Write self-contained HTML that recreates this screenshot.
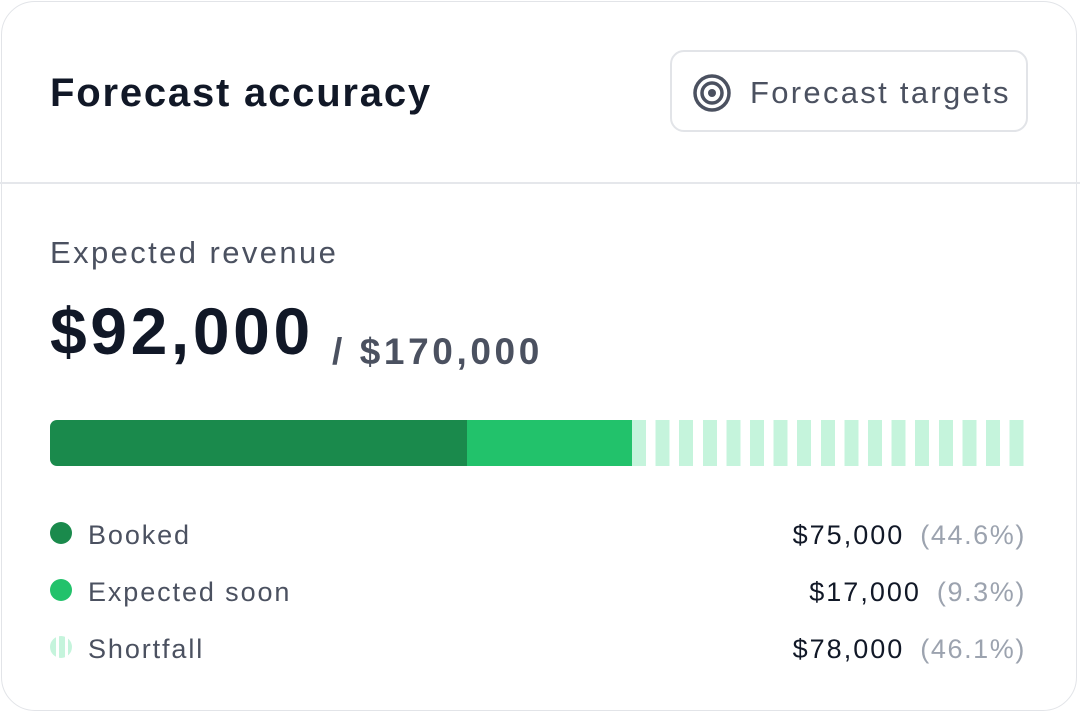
<!DOCTYPE html>
<html><head><style>
body{margin:0;width:1080px;height:714px;background:#fff;font-family:"Liberation Sans",sans-serif;overflow:hidden}
.card{position:absolute;left:1px;top:1px;width:1076px;height:710px;border:1px solid #e2e4e8;border-radius:34px;box-sizing:border-box}
.hdr{position:absolute;left:0;top:182px;width:1080px;height:2px;background:#e5e7eb}
.t{position:absolute;white-space:nowrap}
.btn{position:absolute;left:670px;top:50px;width:358px;height:82px;border:2px solid #e2e4e8;border-radius:14px;box-sizing:border-box}
.bar{position:absolute;top:420px;height:46px}
.dot{position:absolute;left:50px;width:22px;height:22px;border-radius:50%}
.lbl{position:absolute;left:88px;font-size:27px;color:#4b5160;letter-spacing:1.9px}
.val{position:absolute;right:54px;font-size:27px;color:#111827;text-align:right;letter-spacing:2px}
.val span{color:#9ca3af;margin-left:16px;letter-spacing:1.6px}
</style></head><body>
<div class="card"></div>
<div class="t" style="left:50px;top:71px;font-size:40px;font-weight:bold;color:#111827;letter-spacing:1.8px">Forecast accuracy</div>
<div class="btn"></div>
<svg style="position:absolute;left:691px;top:72px" width="42" height="42" viewBox="0 0 42 42"><circle cx="21" cy="21" r="17" fill="none" stroke="#4b5160" stroke-width="3.5"/><circle cx="21" cy="21" r="10" fill="none" stroke="#4b5160" stroke-width="3.5"/><circle cx="21" cy="21" r="4" fill="#4b5160"/></svg>
<div class="t" style="left:750px;top:75px;font-size:31px;color:#4b5160;letter-spacing:2.3px">Forecast targets</div>
<div class="hdr"></div>
<div class="t" style="left:50px;top:235px;font-size:31px;color:#4b5160;letter-spacing:2.4px">Expected revenue</div>
<div class="t" style="left:50px;top:293px;font-size:66px;font-weight:bold;color:#111827;letter-spacing:3.6px">$92,000</div>
<div class="t" style="left:332px;top:331px;font-size:37px;font-weight:bold;color:#4b5160;letter-spacing:3.6px">/ $170,000</div>
<div class="bar" style="left:50px;width:417px;background:#1a8a4c;border-radius:7px 0 0 7px"></div>
<div class="bar" style="left:467px;width:165px;background:#22c26b"></div>
<div class="bar" style="left:632px;width:392px;background:repeating-linear-gradient(90deg,#c5f4dc 0 14px,#fff 14px 23.6px)"></div>
<div class="dot" style="top:522px;background:#1a8a4c"></div>
<div class="dot" style="top:579px;background:#22c26b"></div>
<div class="dot" style="top:636px;background:repeating-linear-gradient(90deg,#c5f4dc 0 6px,#fff 6px 9px)"></div>
<div class="lbl" style="top:520px">Booked</div>
<div class="lbl" style="top:577px">Expected soon</div>
<div class="lbl" style="top:634px">Shortfall</div>
<div class="val" style="top:520px">$75,000<span>(44.6%)</span></div>
<div class="val" style="top:577px">$17,000<span>(9.3%)</span></div>
<div class="val" style="top:634px">$78,000<span>(46.1%)</span></div>
</body></html>
